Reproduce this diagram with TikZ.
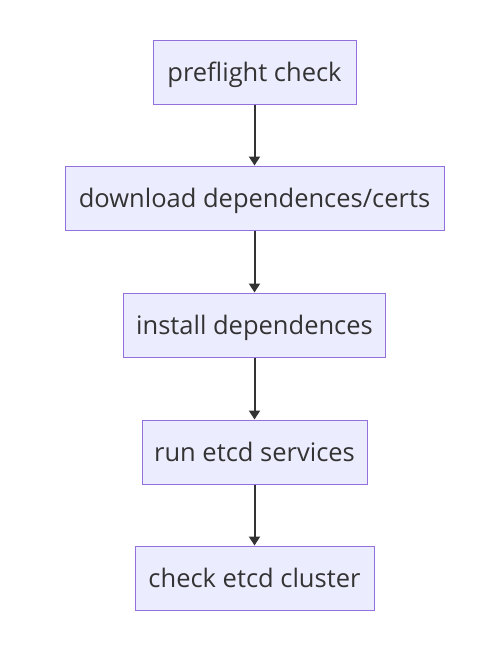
\documentclass[tikz,border=0pt]{standalone}
\usepackage{fontspec}
\setmainfont{Open Sans}
\usetikzlibrary{arrows.meta}
\definecolor{boxfill}{HTML}{ECECFF}
\definecolor{boxline}{HTML}{9370DB}
\definecolor{txt}{HTML}{333333}
\tikzset{
  flowbox/.style={draw=boxline, fill=boxfill, line width=1pt, text=txt,
    font=\fontsize{25.5}{30}\selectfont, minimum height=64pt, inner xsep=0pt,
    text height=22pt, text depth=4pt, anchor=center},
  flowarrow/.style={draw=txt, line width=2pt, -{Triangle[length=9pt,width=11pt]}}
}
\begin{document}
\begin{tikzpicture}[x=1pt,y=-1pt]
\useasboundingbox (0,0) rectangle (499,648);
\node[flowbox, minimum width=203pt] (a) at (254.5,72) {preflight check};
\node[flowbox, minimum width=379pt] (b) at (254.5,198) {download dependences/certs};
\node[flowbox, minimum width=262pt] (c) at (254.5,325) {install dependences};
\node[flowbox, minimum width=225pt] (d) at (254.5,452) {run etcd services};
\node[flowbox, minimum width=239pt] (e) at (254.5,578) {check etcd cluster};
\draw[flowarrow] (a) -- (b);
\draw[flowarrow] (b) -- (c);
\draw[flowarrow] (c) -- (d);
\draw[flowarrow] (d) -- (e);
\end{tikzpicture}
\end{document}
